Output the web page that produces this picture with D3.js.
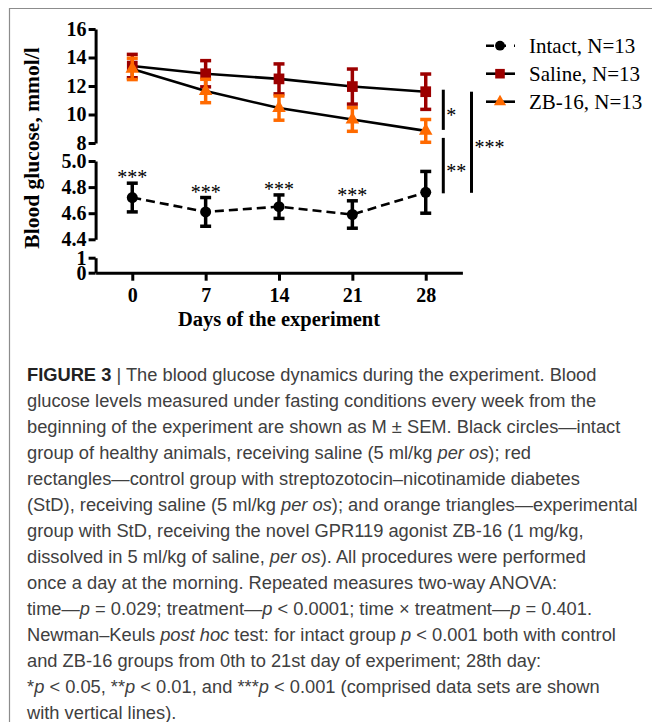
<!DOCTYPE html>
<html>
<head>
<meta charset="utf-8">
<script src="https://cdn.jsdelivr.net/npm/d3@7"></script>
<style>
  body { margin: 0; background: #fff; }
  svg { display: block; }
</style>
</head>
<body>
<div id="vis"></div>
<script>
'use strict'

////////////////////////////////////////
/////////////// Data ///////////////////
////////////////////////////////////////

const days = [0, 7, 14, 21, 28];

const intactMean = [4.72, 4.61, 4.65, 4.59, 4.76];
const intactSem = [0.11, 0.11, 0.09, 0.105, 0.16];
const intactStars = ["***", "***", "***", "***", ""];

const salineMean = [13.4, 12.86, 12.5, 11.96, 11.6];
const salineSem = [0.82, 0.92, 1.05, 1.23, 1.24];

const zbMean = [13.2, 11.65, 10.45, 9.65, 8.85];
const zbSem = [0.75, 0.82, 0.85, 0.83, 0.8];

const legendLabels = ["Intact, N=13", "Saline, N=13", "ZB-16, N=13"];

const topTicks = [8, 10, 12, 14, 16];
const midTicks = [4.4, 4.6, 4.8, 5.0];
const lowTicks = [0, 1];

const caption = [
  [["b", "FIGURE 3"], ["n", " | The blood glucose dynamics during the experiment. Blood"]],
  [["n", "glucose levels measured under fasting conditions every week from the"]],
  [["n", "beginning of the experiment are shown as M \u00b1 SEM. Black circles\u2014intact"]],
  [["n", "group of healthy animals, receiving saline (5 ml/kg "], ["i", "per os"], ["n", "); red"]],
  [["n", "rectangles\u2014control group with streptozotocin\u2013nicotinamide diabetes"]],
  [["n", "(StD), receiving saline (5 ml/kg "], ["i", "per os"], ["n", "); and orange triangles\u2014experimental"]],
  [["n", "group with StD, receiving the novel GPR119 agonist ZB-16 (1 mg/kg,"]],
  [["n", "dissolved in 5 ml/kg of saline, "], ["i", "per os"], ["n", "). All procedures were performed"]],
  [["n", "once a day at the morning. Repeated measures two-way ANOVA:"]],
  [["n", "time\u2014"], ["i", "p"], ["n", " = 0.029; treatment\u2014"], ["i", "p"], ["n", " < 0.0001; time \u00d7 treatment\u2014"], ["i", "p"], ["n", " = 0.401."]],
  [["n", "Newman\u2013Keuls "], ["i", "post hoc"], ["n", " test: for intact group "], ["i", "p"], ["n", " < 0.001 both with control"]],
  [["n", "and ZB-16 groups from 0th to 21st day of experiment; 28th day:"]],
  [["n", "*"], ["i", "p"], ["n", " < 0.05, **"], ["i", "p"], ["n", " < 0.01, and ***"], ["i", "p"], ["n", " < 0.001 (comprised data sets are shown"]],
  [["n", "with vertical lines)."]]
];

////////////////////////////////////////
////////////// Options /////////////////
////////////////////////////////////////

const options = {
  width: 652,
  height: 722,
  serif: "'Liberation Serif', 'Times New Roman', serif",
  sans: "'Liberation Sans', Arial, sans-serif",
  red: "#9c0000",
  orange: "#ff6a00",
  axisX: 95.6
};

const svg = d3.select('#vis').append('svg')
  .attr('width', options.width)
  .attr('height', options.height);

// figure frame (top and left edge)
svg.append('path')
  .attr('d', `M9.5,${options.height}V8.5H${options.width}`)
  .attr('fill', 'none')
  .attr('stroke', '#8c8c8c')
  .attr('stroke-width', 1.2);

////////////////////////////////////////
////////////// Scales //////////////////
////////////////////////////////////////

const x = d3.scaleLinear().domain([-3.5, 31.5]).range([options.axisX, 462.4]);

// broken y axis: three pieces
const yTop = d3.scaleLinear().domain([8, 16]).range([143, 29]);
const yMid = d3.scaleLinear().domain([4.4, 5.0]).range([239.3, 161]);
const yLow = d3.scaleLinear().domain([0, 1]).range([272.7, 257.7]);

////////////////////////////////////////
////////////// Axes ////////////////////
////////////////////////////////////////

function styleAxis(g) {
  g.selectAll('path.domain').attr('stroke', '#000').attr('stroke-width', 3);
  g.selectAll('.tick line').attr('stroke', '#000').attr('stroke-width', 3);
  g.selectAll('.tick text')
    .attr('fill', '#000')
    .style('font-family', options.serif)
    .style('font-weight', 'bold')
    .style('font-size', '20px');
}

[[yTop, topTicks, d3.format('d')], [yMid, midTicks, d3.format('.1f')], [yLow, lowTicks, d3.format('d')]]
  .forEach(([scale, ticks, fmt]) => {
    svg.append('g')
      .attr('transform', `translate(${options.axisX},0)`)
      .call(d3.axisLeft(scale).tickValues(ticks).tickFormat(fmt).tickSize(7).tickSizeOuter(0).tickPadding(2))
      .call(styleAxis);
  });

svg.append('g')
  .attr('transform', `translate(0,${yLow(0)})`)
  .call(d3.axisBottom(x).tickValues(days).tickSize(8).tickSizeOuter(0).tickPadding(7))
  .call(styleAxis);

svg.append('text')
  .attr('x', x(14))
  .attr('y', 326)
  .attr('text-anchor', 'middle')
  .style('font-family', options.serif)
  .style('font-weight', 'bold')
  .style('font-size', '20.5px')
  .text('Days of the experiment');

svg.append('text')
  .attr('transform', 'translate(39,148) rotate(-90)')
  .attr('text-anchor', 'middle')
  .style('font-family', options.serif)
  .style('font-weight', 'bold')
  .style('font-size', '21.5px')
  .text('Blood glucose, mmol/l');

////////////////////////////////////////
////////////// Series //////////////////
////////////////////////////////////////

const series = [
  { key: 'saline', mean: salineMean, sem: salineSem, y: yTop, color: options.red, shape: d3.symbolSquare, size: 115, dash: null },
  { key: 'zb', mean: zbMean, sem: zbSem, y: yTop, color: options.orange, shape: d3.symbolTriangle, size: 80, dash: null },
  { key: 'intact', mean: intactMean, sem: intactSem, y: yMid, color: '#000', shape: d3.symbolCircle, size: 95, dash: '9,5' }
];

series.forEach(s => {
  const pts = days.map((d, i) => ({ day: d, m: s.mean[i], e: s.sem[i] }));
  const line = d3.line().x(d => x(d.day)).y(d => s.y(d.m));

  svg.append('path')
    .datum(pts)
    .attr('d', line)
    .attr('fill', 'none')
    .attr('stroke', '#000')
    .attr('stroke-width', 2.6)
    .attr('stroke-dasharray', s.dash);

  const g = svg.append('g').attr('class', s.key);

  g.selectAll('line.err')
    .data(pts)
    .join('line')
    .attr('class', 'err')
    .attr('x1', d => x(d.day)).attr('x2', d => x(d.day))
    .attr('y1', d => s.y(d.m + d.e)).attr('y2', d => s.y(d.m - d.e))
    .attr('stroke', s.color)
    .attr('stroke-width', 3.5);

  [1, -1].forEach((sign, k) => {
    g.selectAll(`line.cap${k}`)
      .data(pts)
      .join('line')
      .attr('class', `cap${k}`)
      .attr('x1', d => x(d.day) - 5.5).attr('x2', d => x(d.day) + 5.5)
      .attr('y1', d => s.y(d.m + sign * d.e))
      .attr('y2', d => s.y(d.m + sign * d.e))
      .attr('stroke', s.color)
      .attr('stroke-width', 3.5);
  });

  g.selectAll('path.mark')
    .data(pts)
    .join('path')
    .attr('class', 'mark')
    .attr('transform', d => `translate(${x(d.day)},${s.y(d.m)})`)
    .attr('d', d3.symbol().type(s.shape).size(s.size))
    .attr('fill', s.color);
});

// significance stars over intact group
svg.selectAll('text.star')
  .data(days.map((d, i) => ({ day: d, top: intactMean[i] + intactSem[i], label: intactStars[i] })))
  .join('text')
  .attr('class', 'star')
  .attr('x', d => x(d.day))
  .attr('y', d => yMid(d.top) + 1)
  .attr('text-anchor', 'middle')
  .style('font-family', options.serif)
  .style('font-size', '20px')
  .text(d => d.label);

////////////////////////////////////////
////////////// Brackets ////////////////
////////////////////////////////////////

const last = days.length - 1;
const brackets = [
  { x: 443.3, y1: yTop(salineMean[last]) - 2, y2: yTop(zbMean[last]) - 1, label: '*' },
  { x: 443.3, y1: yTop(zbMean[last]) + 7, y2: yMid(intactMean[last]) + 1, label: '**' },
  { x: 471.5, y1: yTop(salineMean[last]), y2: yMid(intactMean[last]) + 0.5, label: '***' }
];

brackets.forEach(b => {
  svg.append('line')
    .attr('x1', b.x).attr('x2', b.x)
    .attr('y1', b.y1).attr('y2', b.y2)
    .attr('stroke', '#000')
    .attr('stroke-width', 3);
  svg.append('text')
    .attr('x', b.x + 3)
    .attr('y', (b.y1 + b.y2) / 2 + 12)
    .style('font-family', options.serif)
    .style('font-size', '20px')
    .text(b.label);
});

////////////////////////////////////////
////////////// Legend //////////////////
////////////////////////////////////////

const legendSeries = [series[2], series[0], series[1]];
const legend = svg.append('g');

legendSeries.forEach((s, i) => {
  const ly = 45.7 + i * 28;
  legend.append('line')
    .attr('x1', 486).attr('x2', 515)
    .attr('y1', ly).attr('y2', ly)
    .attr('stroke', '#000')
    .attr('stroke-width', 2.6)
    .attr('stroke-dasharray', s.dash ? '8,4,0,5,3' : null);
  legend.append('path')
    .attr('transform', `translate(500,${ly})`)
    .attr('d', d3.symbol().type(s.shape).size(s.size * 0.8))
    .attr('fill', s.color);
  legend.append('text')
    .attr('x', 529)
    .attr('y', ly + 7)
    .style('font-family', options.serif)
    .style('font-size', '21px')
    .text(legendLabels[i]);
});

////////////////////////////////////////
////////////// Caption /////////////////
////////////////////////////////////////

const cap = svg.append('g')
  .style('font-family', options.sans)
  .style('font-size', '18.3px')
  .attr('fill', '#404040');

caption.forEach((parts, i) => {
  const t = cap.append('text')
    .attr('x', 27)
    .attr('y', 381 + i * 26);
  parts.forEach(([kind, str]) => {
    t.append('tspan')
      .style('font-weight', kind === 'b' ? 'bold' : null)
      .style('font-style', kind === 'i' ? 'italic' : null)
      .attr('fill', kind === 'b' ? '#222' : null)
      .text(str);
  });
});
</script>
</body>
</html>
